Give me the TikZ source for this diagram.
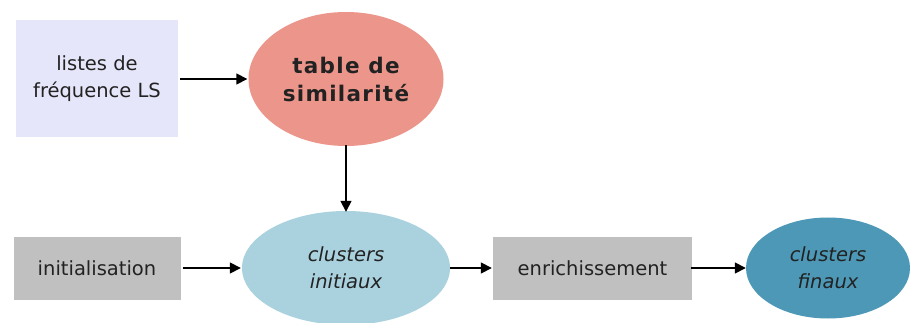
\documentclass[tikz,border=0pt]{standalone}
\usepackage{fontspec}
\setmainfont{DejaVu Sans}
\newfontfamily\spacedfont[LetterSpace=6]{DejaVu Sans}
\usetikzlibrary{shapes.geometric,arrows.meta}
\definecolor{lav}{HTML}{E6E6FA}
\definecolor{salmon}{HTML}{EC958A}
\definecolor{lblue}{HTML}{A9D1DE}
\definecolor{dblue}{HTML}{4C98B6}
\definecolor{grayb}{HTML}{C0C0C0}
\definecolor{txt}{HTML}{222222}
\tikzset{
  lbl/.style={font=\fontsize{19.5}{27}\selectfont, text=txt, align=center, inner sep=0pt},
  rbox/.style={lbl, rectangle, draw=none},
  ebox/.style={lbl, ellipse, draw=none},
  arr/.style={line width=1.6pt, -{Triangle[length=11pt,width=11pt]}, draw=black}
}
\begin{document}
\begin{tikzpicture}[x=1pt,y=-1pt]
\useasboundingbox[fill=white] (0,0) rectangle (910,323);
\node[rbox, fill=lav, minimum width=162pt, minimum height=117pt] (listes) at (97,79) {listes de\\fréquence LS};
\node[ebox, fill=salmon, minimum width=195pt, minimum height=134pt, font=\fontsize{21.5}{28}\selectfont\spacedfont\bfseries] (table) at (346,79) {table de\\similarité};
\node[rbox, fill=grayb, minimum width=167pt, minimum height=63pt] (init) at (97,268) {initialisation};
\node[ebox, fill=lblue, minimum width=208pt, minimum height=114pt, font=\fontsize{19.5}{27}\selectfont\itshape] (initiaux) at (346,268) {clusters\\initiaux};
\node[rbox, fill=grayb, minimum width=199pt, minimum height=63pt] (enrich) at (592.5,268) {enrichissement};
\node[ebox, fill=dblue, minimum width=164pt, minimum height=101pt, font=\fontsize{19.5}{27}\selectfont\itshape] (finaux) at (828,268) {clusters\\finaux};
\draw[arr] ([xshift=2pt]listes.east) -- ([xshift=-1pt]table.west);
\draw[arr] ([yshift=1pt]table.south) -- ([yshift=-1pt]initiaux.north);
\draw[arr] ([xshift=2pt]init.east) -- ([xshift=-1pt]initiaux.west);
\draw[arr] (initiaux.east) -- ([xshift=-1pt]enrich.west);
\draw[arr] ([xshift=-1pt]enrich.east) -- (finaux.west);
\end{tikzpicture}
\end{document}
